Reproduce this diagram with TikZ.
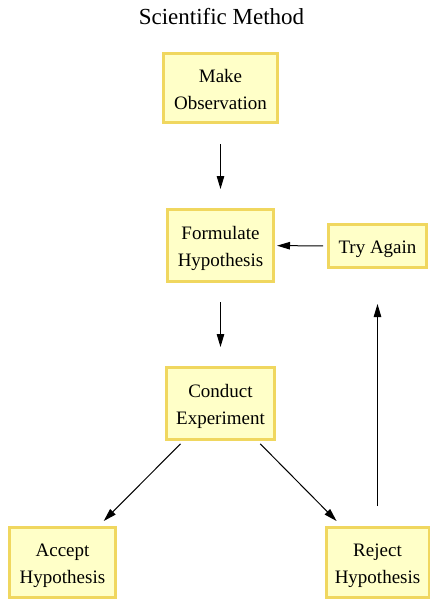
\documentclass[tikz,border=0pt]{standalone}
\usepackage{fontspec}
\setmainfont{Liberation Serif}
\usetikzlibrary{arrows.meta}
\definecolor{boxfill}{RGB}{255,255,200}
\definecolor{boxline}{RGB}{240,215,95}
% box label: stacked lines, ink set a little below the geometric centre
\newcommand\steptext[1]{\raisebox{-2.5pt}[\height][\depth]{\begin{tabular}{@{}c@{}}#1\end{tabular}}}
\tikzset{
  stepbox/.style={draw=boxline, fill=boxfill, line width=3pt, inner sep=0pt,
    font=\fontsize{19}{27}\selectfont},
  flow/.style={line width=1pt, -{Triangle[length=13pt,width=7.5pt]}},
}
\begin{document}
\begin{tikzpicture}[x=1pt,y=-1pt]
  \useasboundingbox (0,0) rectangle (430,600);
  \node[anchor=base, font=\fontsize{23}{28}\selectfont] (title) at (221.5,24) {Scientific Method};

  \node[stepbox, minimum width=114pt, minimum height=69pt] (obs)  at (220.5,88)    {\steptext{Make\\Observation}};
  \node[stepbox, minimum width=106pt, minimum height=72pt] (form) at (220.5,245.5) {\steptext{Formulate\\Hypothesis}};
  \node[stepbox, minimum width=98pt,  minimum height=43pt] (try)  at (377.5,246)   {\steptext{Try Again}};
  \node[stepbox, minimum width=108pt, minimum height=72pt] (cond) at (220.5,403.5) {\steptext{Conduct\\Experiment}};
  \node[stepbox, minimum width=106pt, minimum height=70pt] (acc)  at (62.5,562.5)  {\steptext{Accept\\Hypothesis}};
  \node[stepbox, minimum width=103pt, minimum height=70pt] (rej)  at (377.5,562.5) {\steptext{Reject\\Hypothesis}};

  \draw[flow, shorten <=20pt, shorten >=19pt] (obs) -- (form);
  \draw[flow, shorten <=19pt, shorten >=19pt] (form) -- (cond);
  \draw[flow, shorten <=4pt, shorten >=2pt] (try) -- (form);
  \draw[flow, shorten <=20pt, shorten >=35pt] (rej) -- (try);
  \draw[flow, shorten <=4pt, shorten >=7pt] (cond) -- (acc);
  \draw[flow, shorten <=4pt, shorten >=7pt] (cond) -- (rej);
\end{tikzpicture}
\end{document}
